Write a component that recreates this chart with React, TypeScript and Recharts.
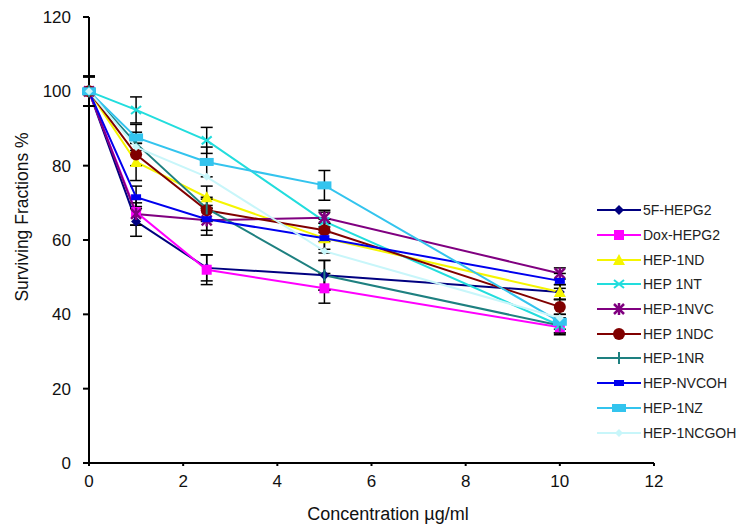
import React from 'react';
import { LineChart, Line, XAxis, YAxis, ErrorBar } from 'recharts';

// concentrations (µg/ml)
const concentrations = [0, 1, 2.5, 5, 10];

// surviving fractions %
const fluoroHepg2 = [100, 65, 52.5, 50.5, 46];
const doxHepg2 = [100, 67.5, 52, 47, 36.5];
const hep1nd = [100, 81, 71.5, 60.5, 46];
const hep1nt = [100, 95, 86.8, 65, 37];
const hep1nvc = [100, 67, 65.3, 66, 51];
const hep1ndc = [100, 83, 68, 62.6, 42];
const hep1nr = [100, 86, 68.5, 50.5, 37];
const hepNvcoh = [100, 71.5, 65.6, 60.5, 49];
const hep1nz = [100, 87.6, 81, 74.7, 38];
const hep1ncgoh = [100, 85, 77, 57, 39];

// standard deviations
const fluoroErr = [4, 4, 3.5, 4, 2];
const doxErr = [4, 3.5, 4, 4, 2];
const ndErr = [4, 5, 3, 3, 2];
const ntErr = [4, 3.5, 3.5, 3, 2];
const nvcErr = [4, 3, 4, 1.5, 1.5];
const ndcErr = [4, 3, 3, 3, 2];
const nrErr = [4, 3, 3, 4, 2];
const nvcohErr = [4, 3, 3, 4, 2];
const nzErr = [4, 3.5, 4, 4, 2];

const xTicks = [0, 2, 4, 6, 8, 10, 12];
const yTicks = [0, 20, 40, 60, 80, 100, 120];

type Shape = 'diamond' | 'square' | 'triangle' | 'cross' | 'star' | 'circle' | 'bar' | 'rect' | 'wide' | 'smallDiamond';

interface SeriesConfig {
  key: string;
  label: string;
  color: string;
  shape: Shape;
  values: number[];
  errors?: number[];
}

const series: SeriesConfig[] = [
  { key: 's0', label: '5F-HEPG2', color: '#000080', shape: 'diamond', values: fluoroHepg2, errors: fluoroErr },
  { key: 's1', label: 'Dox-HEPG2', color: '#FF00FF', shape: 'square', values: doxHepg2, errors: doxErr },
  { key: 's2', label: 'HEP-1ND', color: '#F5F500', shape: 'triangle', values: hep1nd, errors: ndErr },
  { key: 's3', label: 'HEP 1NT', color: '#22DDDD', shape: 'cross', values: hep1nt, errors: ntErr },
  { key: 's4', label: 'HEP-1NVC', color: '#800080', shape: 'star', values: hep1nvc, errors: nvcErr },
  { key: 's5', label: 'HEP 1NDC', color: '#800000', shape: 'circle', values: hep1ndc, errors: ndcErr },
  { key: 's6', label: 'HEP-1NR', color: '#1E8080', shape: 'bar', values: hep1nr, errors: nrErr },
  { key: 's7', label: 'HEP-NVCOH', color: '#0000EE', shape: 'rect', values: hepNvcoh, errors: nvcohErr },
  { key: 's8', label: 'HEP-1NZ', color: '#33C4EE', shape: 'wide', values: hep1nz, errors: nzErr },
  { key: 's9', label: 'HEP-1NCGOH', color: '#C8F6FA', shape: 'smallDiamond', values: hep1ncgoh },
];

const data = concentrations.map((x, i) => {
  const row: Record<string, number> = { x };
  series.forEach((s) => {
    row[s.key] = s.values[i];
    if (s.errors) row[s.key + 'e'] = s.errors[i];
  });
  return row;
});

function marker(shape: Shape, color: string, cx: number, cy: number, key?: string | number) {
  switch (shape) {
    case 'diamond':
      return <polygon key={key} points={`${cx},${cy - 5} ${cx + 5},${cy} ${cx},${cy + 5} ${cx - 5},${cy}`} fill={color} />;
    case 'square':
      return <rect key={key} x={cx - 5} y={cy - 5} width={10} height={10} fill={color} />;
    case 'triangle':
      return <polygon key={key} points={`${cx},${cy - 6} ${cx + 6},${cy + 5} ${cx - 6},${cy + 5}`} fill={color} />;
    case 'cross':
      return (
        <g key={key} stroke={color} strokeWidth={2}>
          <line x1={cx - 5} y1={cy - 4} x2={cx + 5} y2={cy + 4} />
          <line x1={cx - 5} y1={cy + 4} x2={cx + 5} y2={cy - 4} />
        </g>
      );
    case 'star':
      return (
        <g key={key} stroke={color} strokeWidth={2.5}>
          <line x1={cx - 5} y1={cy - 5} x2={cx + 5} y2={cy + 5} />
          <line x1={cx - 5} y1={cy + 5} x2={cx + 5} y2={cy - 5} />
          <line x1={cx} y1={cy - 6} x2={cx} y2={cy + 6} />
        </g>
      );
    case 'circle':
      return <circle key={key} cx={cx} cy={cy} r={6} fill={color} />;
    case 'bar':
      return <line key={key} x1={cx} y1={cy - 6} x2={cx} y2={cy + 6} stroke={color} strokeWidth={2} />;
    case 'rect':
      return <rect key={key} x={cx - 5} y={cy - 3} width={10} height={6} fill={color} />;
    case 'wide':
      return <rect key={key} x={cx - 7} y={cy - 4} width={14} height={8} fill={color} />;
    default:
      return <polygon key={key} points={`${cx},${cy - 4} ${cx + 4},${cy} ${cx},${cy + 4} ${cx - 4},${cy}`} fill={color} />;
  }
}

const font = '"Liberation Sans", Arial, sans-serif';

function Legend() {
  return (
    <div style={{ position: 'absolute', left: 596, top: 198, fontFamily: font, fontSize: 14, color: '#222' }}>
      {series.map((s) => (
        <div key={s.key} style={{ display: 'flex', alignItems: 'center', height: 24.7 }}>
          <svg width={46} height={16} style={{ display: 'block' }}>
            <line x1={1} y1={8} x2={45} y2={8} stroke={s.color} strokeWidth={2} />
            {marker(s.shape, s.color, 23, 8)}
          </svg>
          <span style={{ marginLeft: 1 }}>{s.label}</span>
        </div>
      ))}
    </div>
  );
}

export default function App() {
  return (
    <div style={{ position: 'absolute', left: 0, top: 0, width: 740, height: 525, background: '#fff', overflow: 'hidden' }}>
      <LineChart width={740} height={525} data={data} margin={{ top: 17, right: 86, left: 0, bottom: 24 }}>
        <XAxis
          dataKey="x"
          type="number"
          domain={[0, 12]}
          ticks={xTicks}
          stroke="#000"
          strokeWidth={2}
          tickSize={3}
          tickMargin={9}
          height={38}
          tick={{ fontSize: 17, fill: '#111', fontFamily: font }}
        />
        <YAxis
          type="number"
          domain={[0, 120]}
          ticks={yTicks}
          stroke="#000"
          strokeWidth={2}
          width={89}
          tickSize={6}
          tickMargin={12}
          tick={{ fontSize: 17, fill: '#111', fontFamily: font }}
        />
        {series.map((s) => (
          <Line
            key={s.key}
            dataKey={s.key}
            name={s.label}
            stroke={s.color}
            strokeWidth={2}
            isAnimationActive={false}
            dot={(p: any) => marker(s.shape, s.color, p.cx, p.cy, p.index)}
            activeDot={false}
          >
            {s.errors && (
              <ErrorBar dataKey={s.key + 'e'} direction="y" width={6} stroke="#000" strokeWidth={1.5} />
            )}
          </Line>
        ))}
      </LineChart>
      <Legend />
      <div
        style={{
          position: 'absolute',
          left: 22,
          top: 217,
          transform: 'translate(-50%, -50%) rotate(-90deg)',
          whiteSpace: 'nowrap',
          fontFamily: font,
          fontSize: 17.5,
          color: '#111',
        }}
      >
        Surviving Fractions %
      </div>
      <div
        style={{
          position: 'absolute',
          left: 388,
          top: 514,
          transform: 'translate(-50%, -50%)',
          whiteSpace: 'nowrap',
          fontFamily: font,
          fontSize: 18,
          color: '#111',
        }}
      >
        Concentration µg/ml
      </div>
    </div>
  );
}
